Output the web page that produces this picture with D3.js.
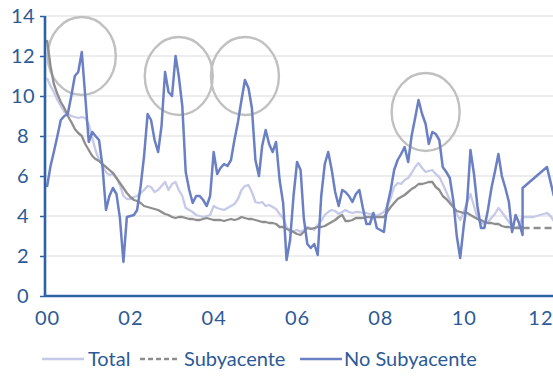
<!DOCTYPE html>
<html>
<head>
<meta charset="utf-8">
<script src="https://cdn.jsdelivr.net/npm/d3@7"></script>
<style>
  html, body { margin: 0; padding: 0; background: #ffffff; }
  svg { display: block; }
  text { font-family: Lato, "Open Sans", sans-serif; fill: #2c5a97; }
</style>
</head>
<body>
<svg id="chart" width="553" height="392"></svg>
<script>
// ---- Data (monthly, starting January 2000) ----
const startMonth = "2000-01";
const yTicks = [0, 2, 4, 6, 8, 10, 12, 14];
const xTickYears = ["2000", "2002", "2004", "2006", "2008", "2010", "2012"];
const seriesNames = ["Total", "Subyacente", "No Subyacente"];

// Total: Jan 2000 – Mar 2012
const total = [
  10.9,10.5,10.2,9.8,9.5,9.2,9.1,9.0,8.95,8.9,8.95,8.9,
  8.6,7.9,7.3,6.8,6.5,6.2,6.05,6.1,5.9,5.55,5.0,4.85,
  4.85,4.95,5.0,5.15,5.3,5.5,5.45,5.2,5.3,5.5,5.7,5.3,
  5.6,5.7,5.3,5.0,4.4,4.3,4.2,4.05,4.0,3.95,4.0,4.05,
  4.5,4.4,4.35,4.3,4.4,4.5,4.6,4.85,5.3,5.5,5.55,5.2,
  4.7,4.65,4.7,4.5,4.55,4.45,4.35,4.1,3.9,3.45,3.2,3.25,
  3.3,3.2,3.3,3.45,3.4,3.3,3.55,3.75,4.05,4.2,4.3,4.25,
  4.1,4.2,4.3,4.2,4.15,4.2,4.2,4.15,4.15,4.1,4.1,4.0,
  4.1,4.2,4.45,4.9,5.45,5.65,5.6,5.8,5.9,6.15,6.45,6.65,
  6.4,6.2,6.25,6.3,6.1,5.95,5.6,5.2,4.8,4.5,4.1,3.8,
  4.2,4.7,5.1,4.5,3.9,3.65,3.6,3.7,3.9,4.1,4.4,4.2,
  3.95,3.7,3.5,3.4,3.5,3.95,3.95,3.95,3.95,4.0,4.05,4.1,
  4.15,4.0,3.75
];

// Subyacente (observed): Jan 2000 – Jun 2011
const subyacente = [
  12.8,11.5,10.6,10.1,9.7,9.4,9.0,8.7,8.35,8.15,8.0,7.6,
  7.3,7.0,6.85,6.75,6.6,6.45,6.3,6.15,5.9,5.65,5.4,5.15,
  4.95,4.8,4.75,4.65,4.5,4.45,4.4,4.35,4.3,4.2,4.1,4.05,
  3.95,3.9,3.95,3.95,3.9,3.85,3.85,3.8,3.8,3.85,3.9,3.85,
  3.8,3.8,3.8,3.75,3.8,3.85,3.8,3.85,3.95,3.9,3.85,3.85,
  3.8,3.75,3.7,3.7,3.65,3.65,3.6,3.45,3.45,3.35,3.3,3.2,
  3.1,3.05,3.2,3.4,3.35,3.4,3.45,3.45,3.5,3.6,3.7,3.8,
  3.95,4.05,3.75,3.75,3.8,3.9,3.9,3.9,3.95,3.95,3.95,3.95,
  3.95,3.95,4.2,4.45,4.65,4.85,4.95,5.05,5.2,5.35,5.45,5.6,
  5.6,5.65,5.7,5.7,5.45,5.3,5.0,4.85,4.65,4.45,4.25,4.2,
  4.15,4.15,4.05,3.95,3.85,3.8,3.7,3.65,3.65,3.6,3.6,3.5,
  3.45,3.45,3.4,3.4,3.4,3.4
];

// No Subyacente (observed): Jan 2000 – Jun 2011
const noSubyacente = [
  5.45,6.5,7.2,8.0,8.8,9.0,9.1,10.0,11.0,11.2,12.2,10.0,
  7.7,8.2,8.0,7.8,6.5,4.3,5.0,5.4,5.1,3.9,1.7,3.95,
  4.0,4.05,4.3,5.5,7.0,9.1,8.8,7.8,7.2,8.5,11.2,10.2,
  10.0,12.0,11.0,9.5,6.2,5.3,4.65,5.0,5.0,4.8,4.5,5.0,
  7.2,6.1,6.4,6.6,6.5,6.8,7.8,8.7,9.8,10.8,10.4,9.4,
  6.8,6.0,7.5,8.3,7.6,7.2,7.7,5.8,4.65,1.8,2.8,5.0,
  6.7,6.3,3.9,2.6,2.4,2.6,2.05,5.0,6.6,7.2,6.3,5.2,
  4.5,5.3,5.2,5.0,4.7,5.1,5.3,4.4,3.6,3.6,4.15,3.4,
  3.3,3.2,4.5,5.3,6.3,6.8,7.1,7.45,6.7,8.0,8.9,9.8,
  9.1,8.6,7.6,8.2,8.1,7.8,6.45,6.2,5.9,4.8,3.0,1.9,
  3.5,4.8,7.3,6.1,4.5,3.4,3.4,4.3,5.4,6.2,7.1,6.0,
  5.4,4.7,3.2,4.05,3.65,3.05
];

// Projections (sparse points)
const projMonths = ["2011-06", "2012-01", "2012-03"];
const subyacenteProj = [3.4, 3.4, 3.4];
const noSubyacenteProj = [5.4, 6.45, 5.0];

// Highlight circles (centre month, centre value)
const circleMonths = ["2000-11", "2003-03", "2004-10", "2009-02"];
const circleValues = [12.0, 11.0, 11.0, 9.2];

// ---- Chart ----
const svg = d3.select("#chart");
const parseM = d3.timeParse("%Y-%m");
const t0 = parseM(startMonth);
const monthDate = i => d3.timeMonth.offset(t0, i);

const x = d3.scaleTime()
  .domain([new Date(2000, 0, 1), new Date(2012, 0, 1)])
  .range([47, 547]);
const y = d3.scaleLinear().domain([0, 14]).range([296, 16]);

const plotLeft = 45, plotRight = 553;

// Gridlines
svg.append("g").selectAll("line").data(yTicks.filter(d => d > 0)).join("line")
  .attr("x1", plotLeft).attr("x2", plotRight)
  .attr("y1", d => y(d)).attr("y2", d => y(d))
  .attr("stroke", "#dcdcdc").attr("stroke-width", 1.2);

// Highlight circles (behind lines)
svg.append("g").selectAll("ellipse").data(circleMonths).join("ellipse")
  .attr("cx", (d, i) => x(parseM(d)))
  .attr("cy", (d, i) => y(circleValues[i]))
  .attr("rx", 34).attr("ry", 39)
  .attr("fill", "none").attr("stroke", "#c0c0c0").attr("stroke-width", 2.4);

const line = d3.line().x(d => x(d[0])).y(d => y(d[1]));

const totalPts = total.map((v, i) => [monthDate(i), v]);
const subPts = subyacente.map((v, i) => [monthDate(i), v]);
const subProjPts = projMonths.map((m, i) => [parseM(m), subyacenteProj[i]]);
const noSubPts = noSubyacente.map((v, i) => [monthDate(i), v])
  .concat(projMonths.map((m, i) => [parseM(m), noSubyacenteProj[i]]));

const colTotal = "#c6c9e8", colSub = "#8e8e8e", colNoSub = "#6a7fc4";

svg.append("path").attr("d", line(totalPts))
  .attr("fill", "none").attr("stroke", colTotal).attr("stroke-width", 2.3)
  .attr("stroke-linejoin", "round");
svg.append("path").attr("d", line(subPts))
  .attr("fill", "none").attr("stroke", colSub).attr("stroke-width", 2.3)
  .attr("stroke-linejoin", "round");
svg.append("path").attr("d", line(subProjPts))
  .attr("fill", "none").attr("stroke", colSub).attr("stroke-width", 2.3)
  .attr("stroke-dasharray", "7,4");
svg.append("path").attr("d", line(noSubPts))
  .attr("fill", "none").attr("stroke", colNoSub).attr("stroke-width", 2.5)
  .attr("stroke-linejoin", "round");

// Axes
const axisCol = "#2e62a6";
svg.append("line").attr("x1", plotLeft).attr("x2", plotLeft)
  .attr("y1", y(14)).attr("y2", y(0) + 1)
  .attr("stroke", axisCol).attr("stroke-width", 2.6);
svg.append("line").attr("x1", plotLeft).attr("x2", plotRight)
  .attr("y1", y(0)).attr("y2", y(0))
  .attr("stroke", axisCol).attr("stroke-width", 2.4);

const yAxis = d3.axisLeft(y).tickValues(yTicks).tickSize(5).tickPadding(0);
const yg = svg.append("g").attr("transform", `translate(${plotLeft},0)`).call(yAxis);
yg.select(".domain").remove();
yg.selectAll(".tick line").attr("stroke", axisCol).attr("stroke-width", 1.5);
yg.selectAll(".tick text")
  .attr("x", -22).attr("text-anchor", "middle")
  .attr("font-size", 20).attr("fill", "#2c5a97").attr("letter-spacing", 0.5)
  .style("font-family", "Lato, sans-serif");

const xAxis = d3.axisBottom(x)
  .tickValues(xTickYears.map(s => d3.timeParse("%Y")(s)))
  .tickFormat(d3.timeFormat("%y")).tickSize(0).tickPadding(0);
const xg = svg.append("g").attr("transform", `translate(0,${y(0)})`).call(xAxis);
xg.select(".domain").remove();
xg.selectAll(".tick text")
  .attr("y", 23).attr("dy", "0.32em")
  .attr("font-size", 20).attr("fill", "#2c5a97").attr("letter-spacing", 1)
  .style("font-family", "Lato, sans-serif");
// last label sits against the right edge
xg.selectAll(".tick:last-of-type text").attr("text-anchor", "end").attr("x", plotRight - x(d3.timeParse("%Y")("2012")));

// Legend
const legendItems = [
  { name: seriesNames[0], color: colTotal, dash: null, x1: 42, x2: 84, tx: 88 },
  { name: seriesNames[1], color: colSub, dash: "5,3", x1: 140, x2: 177, tx: 184 },
  { name: seriesNames[2], color: colNoSub, dash: null, x1: 300, x2: 342, tx: 344 }
];
const lg = svg.append("g");
legendItems.forEach(it => {
  lg.append("line").attr("x1", it.x1).attr("x2", it.x2).attr("y1", 359).attr("y2", 359)
    .attr("stroke", it.color).attr("stroke-width", 2.4)
    .attr("stroke-dasharray", it.dash);
  lg.append("text").attr("x", it.tx).attr("y", 366)
    .attr("font-size", 20).attr("fill", "#2c5a97").text(it.name);
});
</script>
</body>
</html>
